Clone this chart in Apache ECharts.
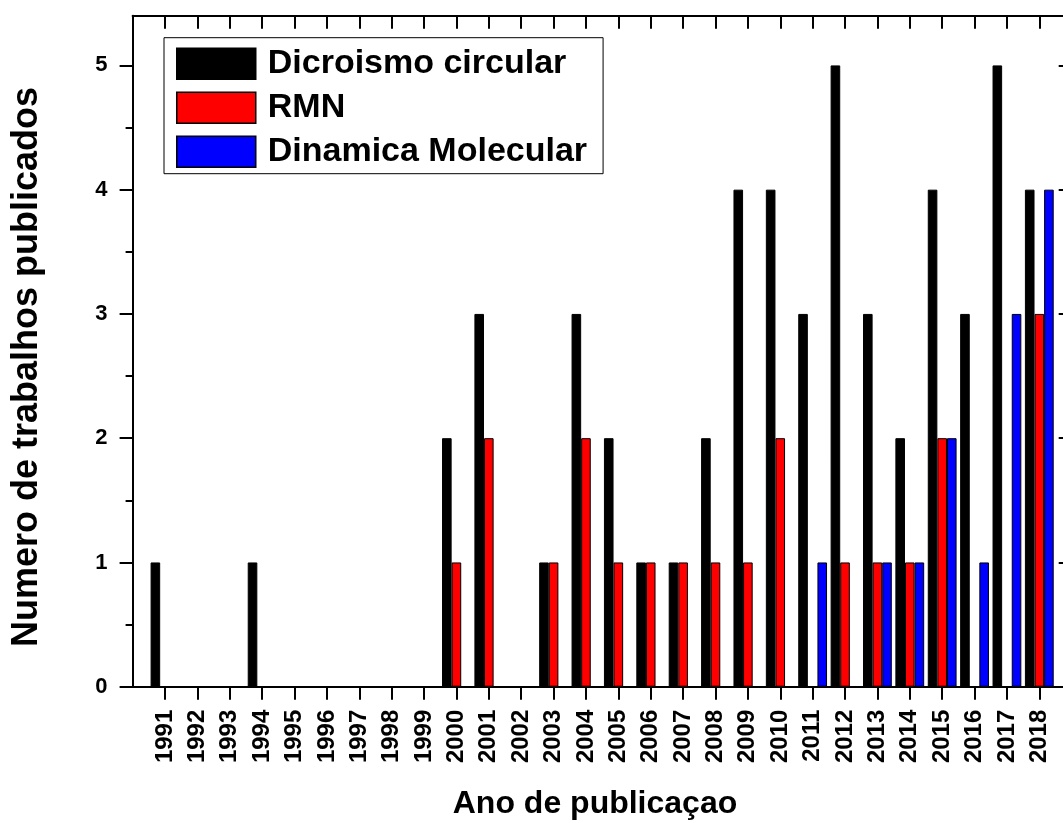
<!DOCTYPE html>
<html>
<head>
<meta charset="utf-8">
<script src="https://cdn.jsdelivr.net/npm/echarts@6/dist/echarts.min.js"></script>
<style>
  html, body { margin: 0; padding: 0; overflow: hidden; background: #fff; }
  #chart { width: 1080px; height: 823px; }
</style>
</head>
<body>
<div id="chart"></div>
<script>
// Publication years and number of papers per technique
const years = [1991, 1992, 1993, 1994, 1995, 1996, 1997, 1998, 1999, 2000,
               2001, 2002, 2003, 2004, 2005, 2006, 2007, 2008, 2009, 2010,
               2011, 2012, 2013, 2014, 2015, 2016, 2017, 2018];
const dicroismo = [1, 0, 0, 1, 0, 0, 0, 0, 0, 2,
                   3, 0, 1, 3, 2, 1, 1, 2, 4, 4,
                   3, 5, 3, 2, 4, 3, 5, 4];
const rmn       = [0, 0, 0, 0, 0, 0, 0, 0, 0, 1,
                   2, 0, 1, 2, 1, 1, 1, 1, 1, 2,
                   0, 1, 1, 1, 2, 0, 0, 3];
const dinamica  = [0, 0, 0, 0, 0, 0, 0, 0, 0, 0,
                   0, 0, 0, 0, 0, 0, 0, 0, 0, 0,
                   1, 0, 1, 1, 2, 1, 3, 4];

const seriesNames = ['Dicroismo circular', 'RMN', 'Dinamica Molecular'];
const seriesColors = ['#000000', '#ff0000', '#0000ff'];
const yTicks = [0, 1, 2, 3, 4, 5];
const yMinorTicks = [0.5, 1.5, 2.5, 3.5, 4.5];
const xTitle = 'Ano de publicaçao';
const yTitle = 'Numero de trabalhos publicados';

const FONT = '"Liberation Sans", Arial, sans-serif';
const AXIS_LINE = { show: true, onZero: false, lineStyle: { color: '#000', width: 2 } };

const chart = echarts.init(document.getElementById('chart'), null, { renderer: 'canvas' });

function barSeries(name, values, color) {
  return {
    name: name,
    type: 'bar',
    xAxisIndex: 0,
    yAxisIndex: 0,
    barWidth: 9.6,
    barGap: '0%',
    itemStyle: { color: color, borderColor: '#000', borderWidth: 1 },
    data: years.map((y, i) => [y, values[i]])
  };
}

chart.setOption({
  animation: false,
  backgroundColor: '#fff',
  grid: {
    left: 132.6, right: 8.3, top: 15.7, bottom: 136.3,
    containLabel: false, outerBoundsMode: 'none'
  },
  legend: {
    data: seriesNames,
    orient: 'vertical',
    left: 164, top: 37.7,
    itemWidth: 79, itemHeight: 31, itemGap: 10,
    icon: 'rect',
    borderColor: '#000', borderWidth: 1,
    padding: [9, 16, 5, 12],
    backgroundColor: '#fff',
    itemStyle: { borderColor: '#000', borderWidth: 1.5 },
    textStyle: {
      fontFamily: FONT, fontWeight: 'bold', fontSize: 34, lineHeight: 31,
      color: '#000', padding: [0, 0, 0, 7]
    }
  },
  xAxis: [
    {
      type: 'value', position: 'bottom', min: 1990, max: 2019, interval: 1,
      axisLine: AXIS_LINE,
      axisTick: { show: true, inside: false, length: 13, lineStyle: { color: '#000', width: 2 }, customValues: years },
      axisLabel: {
        customValues: years, rotate: 90, margin: 23,
        fontFamily: FONT, fontWeight: 'bold', fontSize: 24, color: '#000',
        formatter: v => String(v)
      },
      splitLine: { show: false }
    },
    {
      type: 'value', position: 'top', min: 1990, max: 2019, interval: 1,
      axisLine: AXIS_LINE,
      axisTick: { show: true, inside: true, length: 13, lineStyle: { color: '#000', width: 2 }, customValues: years },
      axisLabel: { show: false },
      splitLine: { show: false }
    }
  ],
  yAxis: [
    {
      type: 'value', position: 'left', min: 0, max: 5.4, interval: 1,
      axisLine: AXIS_LINE,
      axisTick: { show: true, inside: false, length: 13, lineStyle: { color: '#000', width: 2 }, customValues: yTicks },
      axisLabel: {
        customValues: yTicks, margin: 25,
        fontFamily: FONT, fontWeight: 'bold', fontSize: 22, color: '#000'
      },
      splitLine: { show: false }
    },
    {
      // minor ticks on the left side
      type: 'value', position: 'left', min: 0, max: 5.4,
      axisLine: { show: false, onZero: false },
      axisTick: { show: true, inside: false, length: 7, lineStyle: { color: '#000', width: 2 }, customValues: yMinorTicks },
      axisLabel: { show: false },
      splitLine: { show: false }
    },
    {
      type: 'value', position: 'right', min: 0, max: 5.4, interval: 1,
      axisLine: AXIS_LINE,
      axisTick: { show: true, inside: true, length: 13, lineStyle: { color: '#000', width: 2 }, customValues: yTicks },
      axisLabel: { show: false },
      splitLine: { show: false }
    }
  ],
  graphic: [
    {
      type: 'text', x: 27, y: 367, rotation: Math.PI / 2,
      style: { text: yTitle, font: 'bold 36px ' + FONT, fill: '#000', align: 'center', verticalAlign: 'middle' }
    },
    {
      type: 'text', x: 595, y: 804,
      style: { text: xTitle, font: 'bold 32px ' + FONT, fill: '#000', align: 'center', verticalAlign: 'middle' }
    }
  ],
  series: [
    barSeries(seriesNames[0], dicroismo, seriesColors[0]),
    barSeries(seriesNames[1], rmn, seriesColors[1]),
    barSeries(seriesNames[2], dinamica, seriesColors[2])
  ]
});
</script>
</body>
</html>
